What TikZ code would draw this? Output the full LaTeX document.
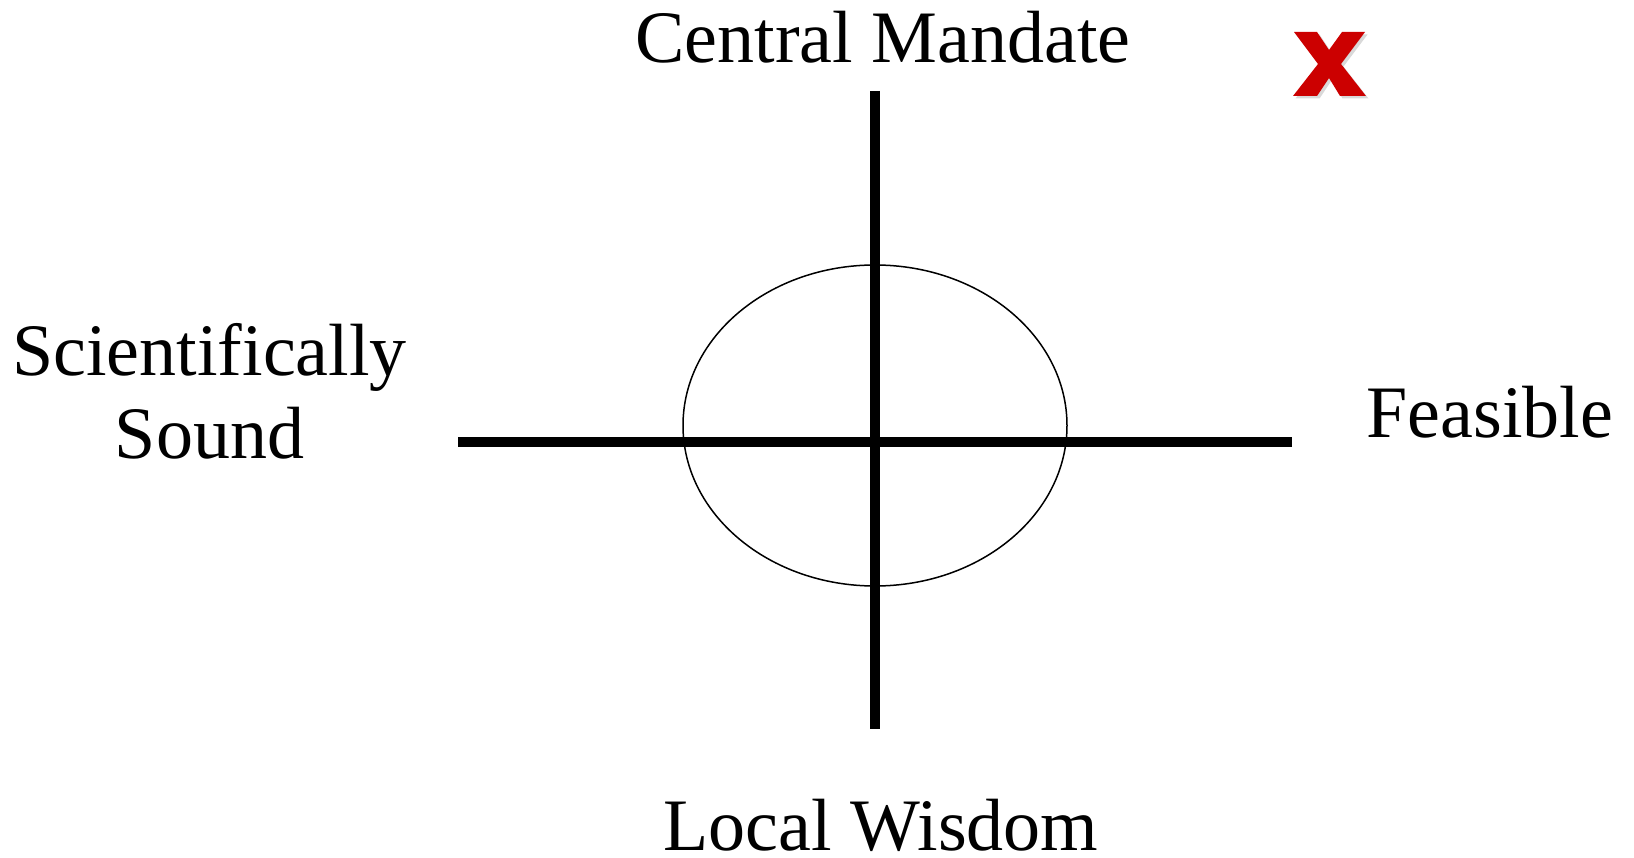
\documentclass[tikz,border=0pt]{standalone}
\usepackage{fontspec}
\setmainfont{Liberation Serif}
\usetikzlibrary{shapes.geometric,shadows}
\definecolor{markRed}{HTML}{CC0000}
\tikzset{
    axislabel/.style={inner sep=0pt, anchor=base, align=center, font=\fontsize{74}{83}\selectfont},
    axisline/.style={line width=10pt},
    ringshape/.style={draw, ellipse, line width=1.5pt, inner sep=0pt, minimum width=384pt, minimum height=321pt},
    crossmark/.style={fill=markRed, drop shadow={shadow xshift=2.5pt, shadow yshift=-2.5pt, opacity=0.3}}
}

\begin{document}
\begin{tikzpicture}[x=1pt, y=-1pt]
    \useasboundingbox (0,0) rectangle (1634,858);
    % ring and cross axes
    \node[ringshape] (ring) at (875,425.5) {};
    \coordinate (top) at (875,91);
    \coordinate (bottom) at (875,729);
    \coordinate (left) at (458,442);
    \coordinate (right) at (1292,442);
    \draw[axisline] (top) -- (bottom);
    \draw[axisline] (left) -- (right);
    % labels
    \node[axislabel] (mandate) at (883,62.5) {Central Mandate};
    \node[axislabel] (wisdom) at (881,850) {Local Wisdom};
    \node[axislabel] (feasible) at (1490,437.5) {Feasible};
    \node[axislabel] (sound) at (209.5,459) {Scientifically\\Sound};
    % red mark
    \path[crossmark] (1294,32) -- (1317,32) -- (1329,50) -- (1342,32) -- (1365,32) -- (1341,64)
        -- (1366,96) -- (1340,96) -- (1329,78) -- (1317,96) -- (1293,96) -- (1318,64) -- cycle;
\end{tikzpicture}
\end{document}
